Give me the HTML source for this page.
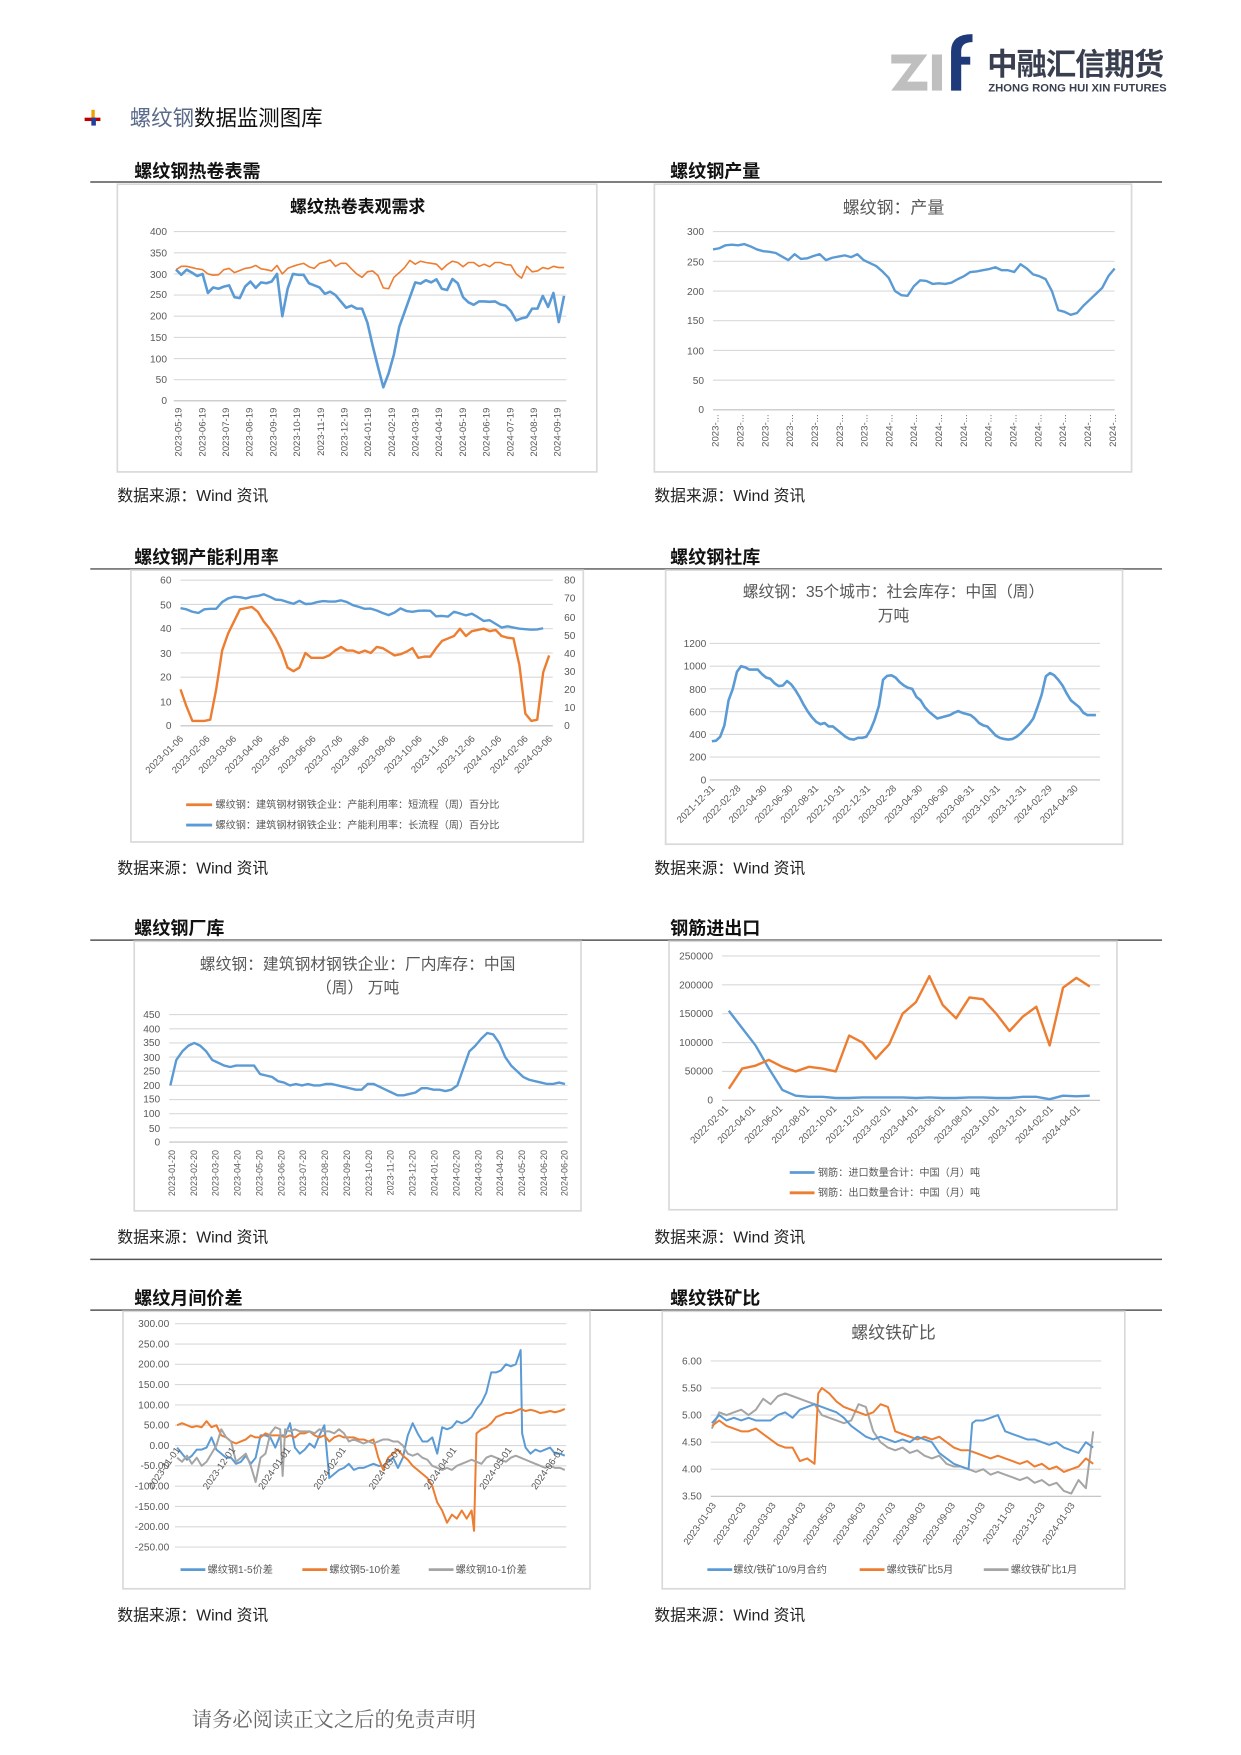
<!DOCTYPE html>
<html><head><meta charset="utf-8"><style>
html,body{margin:0;padding:0;background:#fff;}
svg{display:block;}
text{font-family:"Liberation Sans","Noto Sans CJK SC",sans-serif;}
.t{font-size:9px;fill:#595959;}
.s{font-size:14px;fill:#222;font-family:"Liberation Serif","Noto Serif CJK SC",serif;}
.h{font-size:16px;font-weight:bold;fill:#111;font-family:"Liberation Sans","Noto Sans CJK SC",sans-serif;}
.g{stroke:#d9d9d9;stroke-width:1;}
.box{fill:#fff;stroke:#d9d9d9;stroke-width:1.5;}
.l{fill:none;vector-effect:non-scaling-stroke;stroke-linejoin:round;}
.b{stroke:#5b9bd5;}.o{stroke:#ed7d31;}.y{stroke:#a5a5a5;}
</style></head><body>
<svg width="1241" height="1755" viewBox="0 0 1100 1555" xmlns="http://www.w3.org/2000/svg">
<rect width="1100" height="1555" fill="#fff"/>
<!-- logo -->
<polygon points="790,48 822,48 804,72 822,72 822,80 790,80 808,56 790,56" fill="#bfbfbf"/>
<rect x="826" y="48" width="9" height="32" fill="#bfbfbf"/>
<path d="M843,80 V45 Q843,30 862,30 V37 Q852,37 852,45 V50 H860 V57 H852 V80 Z" fill="#1f3a7a"/>
<text x="875" y="66" style="font-size:27px;font-weight:bold;fill:#3a3f4f;letter-spacing:-1px">中融汇信期货</text>
<text x="876" y="81" style="font-size:10px;font-weight:bold;fill:#3a3f4f">ZHONG RONG HUI XIN FUTURES</text>
<!-- header -->
<rect x="81" y="97" width="3" height="14" fill="#f0a000"/>
<rect x="75" y="104" width="14" height="3" fill="#c00000"/>
<rect x="81" y="104" width="4" height="7" fill="#2040a0"/>
<text x="115" y="111" style="font-size:19px;fill:#5a6a8a">螺纹钢<tspan fill="#111">数据监测图库</tspan></text>
<!-- section lines -->
<g stroke="#555" stroke-width="1.3">
<line x1="80" y1="161" x2="1030" y2="161"/><line x1="80" y1="504" x2="1030" y2="504"/>
<line x1="80" y1="833" x2="1030" y2="833"/><line x1="80" y1="1116" x2="1030" y2="1116"/>
<line x1="80" y1="1161" x2="1030" y2="1161"/></g>
<text class="h" x="119" y="157">螺纹钢热卷表需</text><text class="h" x="594" y="157">螺纹钢产量</text>
<text class="h" x="119" y="499">螺纹钢产能利用率</text><text class="h" x="594" y="499">螺纹钢社库</text>
<text class="h" x="119" y="828">螺纹钢厂库</text><text class="h" x="594" y="828">钢筋进出口</text>
<text class="h" x="119" y="1156">螺纹月间价差</text><text class="h" x="594" y="1156">螺纹铁矿比</text>
<g class="s"><text x="104" y="444">数据来源：Wind 资讯</text><text x="580" y="444">数据来源：Wind 资讯</text>
<text x="104" y="774">数据来源：Wind 资讯</text><text x="580" y="774">数据来源：Wind 资讯</text>
<text x="104" y="1101">数据来源：Wind 资讯</text><text x="580" y="1101">数据来源：Wind 资讯</text>
<text x="104" y="1436">数据来源：Wind 资讯</text><text x="580" y="1436">数据来源：Wind 资讯</text></g>
<text x="170" y="1530" style="font-size:18px;fill:#666;font-family:'Liberation Serif','Noto Serif CJK SC',serif">请务必阅读正文之后的免责声明</text>

<!-- chart 1 -->
<rect class="box" x="104" y="163" width="425" height="255"/>
<text x="317" y="188" text-anchor="middle" style="font-size:15px;font-weight:bold;fill:#111">螺纹热卷表观需求</text>
<g class="g"><line x1="154" x2="502" y1="205" y2="205"/><line x1="154" x2="502" y1="223.75" y2="223.75"/><line x1="154" x2="502" y1="242.5" y2="242.5"/><line x1="154" x2="502" y1="261.25" y2="261.25"/><line x1="154" x2="502" y1="280" y2="280"/><line x1="154" x2="502" y1="298.75" y2="298.75"/><line x1="154" x2="502" y1="317.5" y2="317.5"/><line x1="154" x2="502" y1="336.25" y2="336.25"/><line x1="154" x2="502" y1="355" y2="355" stroke="#bfbfbf"/></g>
<g class="t" text-anchor="end"><text x="148" y="208">400</text><text x="148" y="227">350</text><text x="148" y="246">300</text><text x="148" y="264">250</text><text x="148" y="283">200</text><text x="148" y="302">150</text><text x="148" y="321">100</text><text x="148" y="339">50</text><text x="148" y="358">0</text></g>
<g class="t" text-anchor="end" style="font-size:8.5px">
<text transform="translate(161,361) rotate(-90)">2023-05-19</text><text transform="translate(182,361) rotate(-90)">2023-06-19</text><text transform="translate(203,361) rotate(-90)">2023-07-19</text><text transform="translate(224,361) rotate(-90)">2023-08-19</text><text transform="translate(245,361) rotate(-90)">2023-09-19</text><text transform="translate(266,361) rotate(-90)">2023-10-19</text><text transform="translate(287,361) rotate(-90)">2023-11-19</text><text transform="translate(308,361) rotate(-90)">2023-12-19</text><text transform="translate(329,361) rotate(-90)">2024-01-19</text><text transform="translate(350,361) rotate(-90)">2024-02-19</text><text transform="translate(371,361) rotate(-90)">2024-03-19</text><text transform="translate(392,361) rotate(-90)">2024-04-19</text><text transform="translate(413,361) rotate(-90)">2024-05-19</text><text transform="translate(434,361) rotate(-90)">2024-06-19</text><text transform="translate(455,361) rotate(-90)">2024-07-19</text><text transform="translate(476,361) rotate(-90)">2024-08-19</text><text transform="translate(497,361) rotate(-90)">2024-09-19</text></g>
<g transform="translate(156,355) scale(4.712,-0.375)">
<polyline class="l o" stroke-width="1.6" points="0,310 1,318 2,318 3,315 4,312 5,310 6,300 7,297 8,298 9,310 10,313 11,303 12,308 13,313 14,315 15,320 16,312 17,310 18,307 19,320 20,300 21,313 22,318 23,322 24,325 25,317 26,313 27,325 28,328 29,333 30,318 31,325 32,325 33,312 34,300 35,292 36,305 37,307 38,296 39,267 40,265 41,292 42,303 43,315 44,332 45,323 46,330 47,327 48,325 49,323 50,310 51,322 52,330 53,327 54,317 55,327 56,327 57,318 58,323 59,317 60,327 61,327 62,322 63,321 64,300 65,290 66,318 67,305 68,307 69,315 70,312 71,318 72,315 73,315"/>
<polyline class="l b" stroke-width="2.6" points="0,310 1,298 2,310 3,303 4,295 5,300 6,255 7,268 8,265 9,270 10,273 11,245 12,243 13,270 14,282 15,267 16,280 17,278 18,282 19,300 20,200 21,265 22,300 23,298 24,298 25,278 26,273 27,268 28,253 29,258 30,250 31,235 32,220 33,225 34,218 35,218 36,185 37,130 38,80 39,32 40,65 41,110 42,175 43,210 44,245 45,280 46,277 47,285 48,280 49,287 50,265 51,262 52,288 53,278 54,245 55,233 56,227 57,235 58,235 59,234 60,235 61,228 62,225 63,212 64,190 65,195 66,198 67,218 68,218 69,248 70,222 71,255 72,186 73,248"/></g>

<!-- chart 2 -->
<rect class="box" x="580" y="163" width="423" height="255"/>
<text x="792" y="189" text-anchor="middle" style="font-size:15px;fill:#595959">螺纹钢：产量</text>
<g class="g"><line x1="632" x2="988" y1="205" y2="205"/><line x1="632" x2="988" y1="231.3" y2="231.3"/><line x1="632" x2="988" y1="257.7" y2="257.7"/><line x1="632" x2="988" y1="284" y2="284"/><line x1="632" x2="988" y1="310.3" y2="310.3"/><line x1="632" x2="988" y1="336.7" y2="336.7"/><line x1="632" x2="988" y1="363" y2="363" stroke="#bfbfbf"/></g>
<g class="t" text-anchor="end"><text x="624" y="208">300</text><text x="624" y="235">250</text><text x="624" y="261">200</text><text x="624" y="287">150</text><text x="624" y="314">100</text><text x="624" y="340">50</text><text x="624" y="366">0</text></g>
<g class="t" text-anchor="end" style="font-size:8.5px">
<text transform="translate(637,367) rotate(-90)">2023-...</text><text transform="translate(659,367) rotate(-90)">2023-...</text><text transform="translate(681,367) rotate(-90)">2023-...</text><text transform="translate(703,367) rotate(-90)">2023-...</text><text transform="translate(725,367) rotate(-90)">2023-...</text><text transform="translate(747,367) rotate(-90)">2023-...</text><text transform="translate(769,367) rotate(-90)">2023-...</text><text transform="translate(791,367) rotate(-90)">2024-...</text><text transform="translate(813,367) rotate(-90)">2024-...</text><text transform="translate(835,367) rotate(-90)">2024-...</text><text transform="translate(857,367) rotate(-90)">2024-...</text><text transform="translate(879,367) rotate(-90)">2024-...</text><text transform="translate(901,367) rotate(-90)">2024-...</text><text transform="translate(923,367) rotate(-90)">2024-...</text><text transform="translate(945,367) rotate(-90)">2024-...</text><text transform="translate(967,367) rotate(-90)">2024-...</text><text transform="translate(989,367) rotate(-90)">2024-...</text></g>
<g transform="translate(632,363) scale(5.5625,-0.5267)">
<polyline class="l b" stroke-width="2.4" points="0,270 1,272 2,277 3,278 4,277 5,279 6,275 7,270 8,267 9,266 10,264 11,258 12,252 13,262 14,254 15,255 16,259 17,262 18,252 19,256 20,258 21,260 22,257 23,262 24,252 25,247 26,242 27,233 28,222 29,200 30,193 31,192 32,208 33,218 34,217 35,212 36,213 37,212 38,214 39,220 40,225 41,232 42,233 43,235 44,237 45,240 46,235 47,235 48,232 49,245 50,238 51,228 52,225 53,220 54,200 55,168 56,165 57,160 58,163 59,175 60,185 61,195 62,205 63,225 64,238"/></g>

<!-- chart 3 -->
<rect class="box" x="116" y="505" width="401" height="241"/>
<g class="g"><line x1="160" x2="490" y1="514" y2="514"/><line x1="160" x2="490" y1="535.5" y2="535.5"/><line x1="160" x2="490" y1="557" y2="557"/><line x1="160" x2="490" y1="578.5" y2="578.5"/><line x1="160" x2="490" y1="600" y2="600"/><line x1="160" x2="490" y1="621.5" y2="621.5"/><line x1="160" x2="490" y1="643" y2="643" stroke="#bfbfbf"/></g>
<g class="t" text-anchor="end"><text x="152" y="517">60</text><text x="152" y="539">50</text><text x="152" y="560">40</text><text x="152" y="582">30</text><text x="152" y="603">20</text><text x="152" y="625">10</text><text x="152" y="646">0</text></g>
<g class="t"><text x="500" y="517">80</text><text x="500" y="533">70</text><text x="500" y="550">60</text><text x="500" y="566">50</text><text x="500" y="582">40</text><text x="500" y="598">30</text><text x="500" y="614">20</text><text x="500" y="630">10</text><text x="500" y="646">0</text></g>
<g class="t" text-anchor="end" style="font-size:8.5px">
<text transform="translate(163,655) rotate(-45)">2023-01-06</text><text transform="translate(186.5,655) rotate(-45)">2023-02-06</text><text transform="translate(210,655) rotate(-45)">2023-03-06</text><text transform="translate(233.5,655) rotate(-45)">2023-04-06</text><text transform="translate(257,655) rotate(-45)">2023-05-06</text><text transform="translate(280.5,655) rotate(-45)">2023-06-06</text><text transform="translate(304,655) rotate(-45)">2023-07-06</text><text transform="translate(327.5,655) rotate(-45)">2023-08-06</text><text transform="translate(351,655) rotate(-45)">2023-09-06</text><text transform="translate(374.5,655) rotate(-45)">2023-10-06</text><text transform="translate(398,655) rotate(-45)">2023-11-06</text><text transform="translate(421.5,655) rotate(-45)">2023-12-06</text><text transform="translate(445,655) rotate(-45)">2024-01-06</text><text transform="translate(468.5,655) rotate(-45)">2024-02-06</text><text transform="translate(490,655) rotate(-45)">2024-03-06</text></g>
<g transform="translate(160,643) scale(5.27,-2.15)">
<polyline class="l b" stroke-width="2.4" points="0,48.5 1,48 2,47 3,46.5 4,48 5,48.2 6,48.2 7,51 8,52.5 9,53.2 10,53 11,52.5 12,53.2 13,53.5 14,54.2 15,53.2 16,52 17,51.8 18,51 19,50.3 20,51.5 21,50.2 22,50.3 23,51 24,51.4 25,51.2 26,51.2 27,51.7 28,51 29,49.7 30,49 31,48.2 32,48.3 33,47.5 34,46.5 35,45.6 36,46.7 37,48.4 38,47.3 39,47 40,47.4 41,47.5 42,47.4 43,45.1 44,45.3 45,45 46,47 47,46.3 48,45.5 49,46.2 50,44.8 51,43.2 52,43.5 53,42 54,40.5 55,41 56,40.5 57,40 58,39.8 59,39.6 60,39.7 61,40.2"/>
<polyline class="l o" stroke-width="2.4" points="0,15 1,8 2,2 3,2 4,2 5,2.5 6,15 7,31 8,38 9,43 10,48 11,48.5 12,49 13,47 14,43 15,40 16,36 17,31 18,24 19,22.5 20,24 21,30 22,28 23,28 24,28 25,29 26,31 27,32.5 28,31 29,31 30,30 31,31 32,30 33,32.5 34,32 35,30.5 36,29 37,29.5 38,30.5 39,32 40,28 41,28.5 42,28.5 43,32 44,35 45,36 46,37 47,40 48,37 49,39 50,39.5 51,40 52,39 53,39.5 54,37 55,36.3 56,36 57,25 58,5 59,2 60,2.5 61,22 62,29"/></g>
<line x1="165" x2="188" y1="713" y2="713" stroke="#ed7d31" stroke-width="2.5"/>
<line x1="165" x2="188" y1="731" y2="731" stroke="#5b9bd5" stroke-width="2.5"/>
<g class="t"><text x="191" y="716">螺纹钢：建筑钢材钢铁企业：产能利用率：短流程（周）百分比</text><text x="191" y="734">螺纹钢：建筑钢材钢铁企业：产能利用率：长流程（周）百分比</text></g>

<!-- chart 4 -->
<rect class="box" x="590" y="505" width="405" height="243"/>
<text x="792" y="529" text-anchor="middle" style="font-size:14px;fill:#595959">螺纹钢：35个城市：社会库存：中国（周）</text>
<text x="792" y="550" text-anchor="middle" style="font-size:14px;fill:#595959">万吨</text>
<g class="g"><line x1="629" x2="975" y1="570" y2="570"/><line x1="629" x2="975" y1="590.2" y2="590.2"/><line x1="629" x2="975" y1="610.3" y2="610.3"/><line x1="629" x2="975" y1="630.5" y2="630.5"/><line x1="629" x2="975" y1="650.7" y2="650.7"/><line x1="629" x2="975" y1="670.8" y2="670.8"/><line x1="629" x2="975" y1="691" y2="691" stroke="#bfbfbf"/></g>
<g class="t" text-anchor="end"><text x="626" y="573">1200</text><text x="626" y="593">1000</text><text x="626" y="614">800</text><text x="626" y="634">600</text><text x="626" y="654">400</text><text x="626" y="674">200</text><text x="626" y="694">0</text></g>
<g class="t" text-anchor="end" style="font-size:8.5px">
<text transform="translate(634,699) rotate(-45)">2021-12-31</text><text transform="translate(657,699) rotate(-45)">2022-02-28</text><text transform="translate(680,699) rotate(-45)">2022-04-30</text><text transform="translate(703,699) rotate(-45)">2022-06-30</text><text transform="translate(726,699) rotate(-45)">2022-08-31</text><text transform="translate(749,699) rotate(-45)">2022-10-31</text><text transform="translate(772,699) rotate(-45)">2022-12-31</text><text transform="translate(795,699) rotate(-45)">2023-02-28</text><text transform="translate(818,699) rotate(-45)">2023-04-30</text><text transform="translate(841,699) rotate(-45)">2023-06-30</text><text transform="translate(864,699) rotate(-45)">2023-08-31</text><text transform="translate(887,699) rotate(-45)">2023-10-31</text><text transform="translate(910,699) rotate(-45)">2023-12-31</text><text transform="translate(933,699) rotate(-45)">2024-02-29</text><text transform="translate(956,699) rotate(-45)">2024-04-30</text></g>
<g transform="translate(631,691) scale(3.7,-0.1008)">
<polyline class="l b" stroke-width="2.6" points="0,340 1,345 2,380 3,480 4,700 5,800 6,950 7,1000 8,990 9,970 10,970 11,970 12,930 13,900 14,890 15,850 16,825 17,830 18,870 19,840 20,790 21,730 22,660 23,600 24,550 25,510 26,490 27,500 28,470 29,470 30,440 31,410 32,380 33,360 34,355 35,370 36,370 37,380 38,440 39,530 40,650 41,880 42,915 43,920 44,900 45,860 46,830 47,810 48,800 49,730 50,700 51,640 52,600 53,570 54,540 55,550 56,560 57,570 58,590 59,605 60,590 61,580 62,570 63,540 64,500 65,480 66,470 67,430 68,390 69,370 70,360 71,355 72,360 73,380 74,410 75,450 76,490 77,540 78,640 79,750 80,910 81,940 82,920 83,880 84,830 85,760 86,700 87,670 88,640 89,590 90,570 91,570 92,570"/></g>

<!-- chart 5 -->
<rect class="box" x="119" y="834" width="396" height="239"/>
<text x="317" y="859" text-anchor="middle" style="font-size:14px;fill:#595959">螺纹钢：建筑钢材钢铁企业：厂内库存：中国</text>
<text x="317" y="880" text-anchor="middle" style="font-size:14px;fill:#595959">（周）  万吨</text>
<g class="g"><line x1="150" x2="503" y1="899" y2="899"/><line x1="150" x2="503" y1="911.6" y2="911.6"/><line x1="150" x2="503" y1="924.1" y2="924.1"/><line x1="150" x2="503" y1="936.7" y2="936.7"/><line x1="150" x2="503" y1="949.2" y2="949.2"/><line x1="150" x2="503" y1="961.8" y2="961.8"/><line x1="150" x2="503" y1="974.3" y2="974.3"/><line x1="150" x2="503" y1="986.9" y2="986.9"/><line x1="150" x2="503" y1="999.4" y2="999.4"/><line x1="150" x2="503" y1="1012" y2="1012" stroke="#bfbfbf"/></g>
<g class="t" text-anchor="end"><text x="142" y="902">450</text><text x="142" y="915">400</text><text x="142" y="927">350</text><text x="142" y="940">300</text><text x="142" y="952">250</text><text x="142" y="965">200</text><text x="142" y="977">150</text><text x="142" y="990">100</text><text x="142" y="1003">50</text><text x="142" y="1015">0</text></g>
<g class="t" text-anchor="end" style="font-size:8px">
<text transform="translate(155,1019) rotate(-90)">2023-01-20</text><text transform="translate(174.4,1019) rotate(-90)">2023-02-20</text><text transform="translate(193.8,1019) rotate(-90)">2023-03-20</text><text transform="translate(213.2,1019) rotate(-90)">2023-04-20</text><text transform="translate(232.6,1019) rotate(-90)">2023-05-20</text><text transform="translate(252,1019) rotate(-90)">2023-06-20</text><text transform="translate(271.4,1019) rotate(-90)">2023-07-20</text><text transform="translate(290.8,1019) rotate(-90)">2023-08-20</text><text transform="translate(310.2,1019) rotate(-90)">2023-09-20</text><text transform="translate(329.6,1019) rotate(-90)">2023-10-20</text><text transform="translate(349,1019) rotate(-90)">2023-11-20</text><text transform="translate(368.4,1019) rotate(-90)">2023-12-20</text><text transform="translate(387.8,1019) rotate(-90)">2024-01-20</text><text transform="translate(407.2,1019) rotate(-90)">2024-02-20</text><text transform="translate(426.6,1019) rotate(-90)">2024-03-20</text><text transform="translate(446,1019) rotate(-90)">2024-04-20</text><text transform="translate(465.4,1019) rotate(-90)">2024-05-20</text><text transform="translate(484.8,1019) rotate(-90)">2024-06-20</text><text transform="translate(503,1019) rotate(-90)">2024-06-20</text></g>
<g transform="translate(151,1012) scale(5.3,-0.2511)">
<polyline class="l b" stroke-width="2.4" points="0,200 1,290 2,320 3,340 4,350 5,340 6,320 7,290 8,280 9,270 10,265 11,270 12,270 13,270 14,270 15,240 16,235 17,230 18,215 19,210 20,200 21,205 22,200 23,205 24,200 25,200 26,205 27,205 28,200 29,195 30,190 31,185 32,185 33,205 34,205 35,195 36,185 37,175 38,165 39,165 40,170 41,175 42,190 43,190 44,185 45,185 46,180 47,185 48,200 49,260 50,320 51,340 52,365 53,385 54,380 55,350 56,300 57,270 58,250 59,230 60,220 61,215 62,210 63,205 64,205 65,210 66,205"/></g>

<!-- chart 6 -->
<rect class="box" x="593" y="834" width="397" height="238"/>
<g class="g"><line x1="640" x2="975" y1="847" y2="847"/><line x1="640" x2="975" y1="872.6" y2="872.6"/><line x1="640" x2="975" y1="898.2" y2="898.2"/><line x1="640" x2="975" y1="923.8" y2="923.8"/><line x1="640" x2="975" y1="949.4" y2="949.4"/><line x1="640" x2="975" y1="975" y2="975" stroke="#bfbfbf"/></g>
<g class="t" text-anchor="end"><text x="632" y="850">250000</text><text x="632" y="876">200000</text><text x="632" y="901">150000</text><text x="632" y="927">100000</text><text x="632" y="952">50000</text><text x="632" y="978">0</text></g>
<g class="t" text-anchor="end" style="font-size:8.5px">
<text transform="translate(646,983) rotate(-45)">2022-02-01</text><text transform="translate(670,983) rotate(-45)">2022-04-01</text><text transform="translate(694,983) rotate(-45)">2022-06-01</text><text transform="translate(718,983) rotate(-45)">2022-08-01</text><text transform="translate(742,983) rotate(-45)">2022-10-01</text><text transform="translate(766,983) rotate(-45)">2022-12-01</text><text transform="translate(790,983) rotate(-45)">2023-02-01</text><text transform="translate(814,983) rotate(-45)">2023-04-01</text><text transform="translate(838,983) rotate(-45)">2023-06-01</text><text transform="translate(862,983) rotate(-45)">2023-08-01</text><text transform="translate(886,983) rotate(-45)">2023-10-01</text><text transform="translate(910,983) rotate(-45)">2023-12-01</text><text transform="translate(934,983) rotate(-45)">2024-02-01</text><text transform="translate(958,983) rotate(-45)">2024-04-01</text></g>
<g transform="translate(646,975) scale(11.85,-0.512)">
<polyline class="l b" stroke-width="2.4" points="0,155 1,125 2,95 3,55 4,18 5,8 6,6 7,6 8,4 9,4 10,5 11,5 12,5 13,5 14,4 15,5 16,4 17,4 18,5 19,5 20,4 21,4 22,6 23,6 24,2 25,8 26,7 27,8"/>
<polyline class="l o" stroke-width="2.4" points="0,20 1,55 2,60 3,70 4,58 5,50 6,58 7,55 8,50 9,112 10,100 11,72 12,97 13,150 14,170 15,215 16,165 17,142 18,178 19,175 20,150 21,120 22,145 23,162 24,95 25,195 26,212 27,197"/></g>
<line x1="700" x2="722" y1="1039" y2="1039" stroke="#5b9bd5" stroke-width="2.5"/>
<line x1="700" x2="722" y1="1057" y2="1057" stroke="#ed7d31" stroke-width="2.5"/>
<g class="t"><text x="725" y="1042">钢筋：进口数量合计：中国（月）吨</text><text x="725" y="1060">钢筋：出口数量合计：中国（月）吨</text></g>

<!-- chart 7 -->
<rect class="box" x="109" y="1162" width="414" height="246"/>
<g class="g"><line x1="155" x2="502" y1="1173" y2="1173"/><line x1="155" x2="502" y1="1191" y2="1191"/><line x1="155" x2="502" y1="1209" y2="1209"/><line x1="155" x2="502" y1="1227" y2="1227"/><line x1="155" x2="502" y1="1245" y2="1245"/><line x1="155" x2="502" y1="1263" y2="1263"/><line x1="155" x2="502" y1="1281" y2="1281"/><line x1="155" x2="502" y1="1299" y2="1299"/><line x1="155" x2="502" y1="1317" y2="1317"/><line x1="155" x2="502" y1="1335" y2="1335"/><line x1="155" x2="502" y1="1353" y2="1353"/><line x1="155" x2="502" y1="1371" y2="1371"/></g>
<g class="t" text-anchor="end"><text x="150" y="1176">300.00</text><text x="150" y="1194">250.00</text><text x="150" y="1212">200.00</text><text x="150" y="1230">150.00</text><text x="150" y="1248">100.00</text><text x="150" y="1266">50.00</text><text x="150" y="1284">0.00</text><text x="150" y="1302">-50.00</text><text x="150" y="1320">-100.00</text><text x="150" y="1338">-150.00</text><text x="150" y="1356">-200.00</text><text x="150" y="1374">-250.00</text></g>
<g transform="translate(157,1281) scale(4.35,-0.36)">
<polyline class="l b" stroke-width="2" points="0,-5 1,-20 2,-35 3,-25 4,-10 5,-10 6,-5 7,20 8,-10 9,-20 10,-30 11,-30 12,-45 13,-40 14,-25 15,-45 16,-30 17,25 18,25 19,20 20,-5 21,25 22,25 23,55 24,-5 25,-20 26,-10 27,5 28,-5 29,25 30,50 31,-80 32,-70 33,-60 34,-55 35,-45 36,-60 37,-55 38,-55 39,-50 40,-45 41,-50 42,-50 43,-40 44,-30 45,-55 46,-30 47,25 48,55 49,30 50,10 51,10 52,20 53,-20 54,45 55,40 56,45 57,60 58,55 59,60 60,70 61,90 62,105 63,130 64,180 65,180 66,185 67,200 68,195 69,200 70,235 70.3,30 71,-5 72,-20 73,-10 74,-15 75,-10 76,-5 77,-20 78,-20 79,-25"/>
<polyline class="l o" stroke-width="2" points="0,50 1,55 2,50 3,45 4,48 5,45 6,60 7,45 8,50 9,25 10,20 11,10 12,5 13,10 14,15 15,25 16,20 17,20 18,30 19,25 20,25 21,25 22,20 23,25 24,20 25,30 26,30 27,35 28,25 29,20 30,25 31,10 32,20 33,25 34,20 35,20 36,20 37,15 38,15 39,10 40,15 41,-30 42,-60 43,-30 44,-20 45,-10 46,-25 47,-35 48,-50 49,-60 50,-70 51,-80 52,-100 53,-140 54,-160 55,-190 56,-170 57,-180 58,-160 59,-180 60,-160 60.5,-210 61,30 62,40 63,45 64,55 65,70 66,75 67,80 68,80 69,85 70,90 71,85 72,88 73,85 74,80 75,82 76,85 77,82 78,85 79,90"/>
<polyline class="l y" stroke-width="2" points="0,-30 1,-40 2,-25 3,-45 4,-30 5,-50 6,-40 7,-20 8,0 9,40 10,20 11,10 12,-40 13,-30 14,-20 15,-50 16,-90 17,-30 18,-20 19,30 20,45 21,40 21.5,-75 22,40 23,35 24,40 25,35 26,35 27,35 28,30 29,40 30,35 31,35 32,30 33,40 34,30 35,10 36,15 37,10 38,5 39,10 40,5 41,10 42,15 43,15 44,10 45,10 46,0 47,-20 48,-25 49,-20 50,-30 51,-35 52,-50 53,-55 54,-60 55,-55 56,-60 57,-50 58,-45 59,-40 60,-35 61,-40 62,-45 63,-30 64,-25 65,-30 66,-35 67,-40 68,-30 69,-25 70,-30 71,-35 72,-40 73,-45 74,-50 75,-55 76,-50 77,-55 78,-55 79,-60"/></g>
<g class="t" text-anchor="end" style="font-size:8.5px">
<text transform="translate(160,1285) rotate(-55)">2023-11-01</text><text transform="translate(209,1285) rotate(-55)">2023-12-01</text><text transform="translate(258,1285) rotate(-55)">2024-01-01</text><text transform="translate(307,1285) rotate(-55)">2024-02-01</text><text transform="translate(356,1285) rotate(-55)">2024-03-01</text><text transform="translate(405,1285) rotate(-55)">2024-04-01</text><text transform="translate(454,1285) rotate(-55)">2024-05-01</text><text transform="translate(500,1285) rotate(-55)">2024-06-01</text></g>
<line x1="160" x2="182" y1="1391" y2="1391" stroke="#5b9bd5" stroke-width="2.5"/>
<line x1="268" x2="290" y1="1391" y2="1391" stroke="#ed7d31" stroke-width="2.5"/>
<line x1="380" x2="402" y1="1391" y2="1391" stroke="#a5a5a5" stroke-width="2.5"/>
<g class="t"><text x="184" y="1394">螺纹钢1-5价差</text><text x="292" y="1394">螺纹钢5-10价差</text><text x="404" y="1394">螺纹钢10-1价差</text></g>

<!-- chart 8 -->
<rect class="box" x="587" y="1162" width="410" height="246"/>
<text x="792" y="1186" text-anchor="middle" style="font-size:15px;fill:#595959">螺纹铁矿比</text>
<g class="g"><line x1="630" x2="976" y1="1206" y2="1206"/><line x1="630" x2="976" y1="1230" y2="1230"/><line x1="630" x2="976" y1="1254" y2="1254"/><line x1="630" x2="976" y1="1278" y2="1278"/><line x1="630" x2="976" y1="1302" y2="1302"/><line x1="630" x2="976" y1="1326" y2="1326" stroke="#bfbfbf"/></g>
<g class="t" text-anchor="end"><text x="622" y="1209">6.00</text><text x="622" y="1233">5.50</text><text x="622" y="1257">5.00</text><text x="622" y="1281">4.50</text><text x="622" y="1305">4.00</text><text x="622" y="1329">3.50</text></g>
<g class="t" text-anchor="end" style="font-size:8.5px">
<text transform="translate(635,1334) rotate(-55)">2023-01-03</text><text transform="translate(661.5,1334) rotate(-55)">2023-02-03</text><text transform="translate(688,1334) rotate(-55)">2023-03-03</text><text transform="translate(714.5,1334) rotate(-55)">2023-04-03</text><text transform="translate(741,1334) rotate(-55)">2023-05-03</text><text transform="translate(767.5,1334) rotate(-55)">2023-06-03</text><text transform="translate(794,1334) rotate(-55)">2023-07-03</text><text transform="translate(820.5,1334) rotate(-55)">2023-08-03</text><text transform="translate(847,1334) rotate(-55)">2023-09-03</text><text transform="translate(873.5,1334) rotate(-55)">2023-10-03</text><text transform="translate(900,1334) rotate(-55)">2023-11-03</text><text transform="translate(926.5,1334) rotate(-55)">2023-12-03</text><text transform="translate(953,1334) rotate(-55)">2024-01-03</text></g>
<g transform="translate(631,1326) scale(6.5,-48)">
<polyline class="l y" stroke-width="2" points="0,1.25 1,1.55 2,1.5 3,1.55 4,1.6 5,1.5 6,1.6 7,1.8 8,1.7 9,1.85 10,1.9 11,1.85 12,1.8 13,1.75 14,1.7 15,1.5 16,1.45 17,1.4 18,1.35 19,1.4 20,1.7 21,1.65 22,1.2 23,1.0 24,0.9 25,0.85 26,0.9 27,0.8 28,0.85 29,0.75 30,0.7 31,0.75 32,0.6 33,0.55 34,0.55 35,0.5 36,0.45 37,0.5 38,0.4 39,0.45 40,0.4 41,0.35 42,0.3 43,0.35 44,0.25 45,0.3 46,0.2 47,0.25 48,0.1 49,0.05 50,0.3 51,0.15 52,1.2"/>
<polyline class="l o" stroke-width="2" points="0,1.3 1,1.4 2,1.3 3,1.25 4,1.2 5,1.2 6,1.25 7,1.15 8,1.05 9,0.95 10,0.9 11,0.9 12,0.65 13,0.7 14,0.6 14.5,1.9 15,2.0 16,1.9 17,1.75 18,1.65 19,1.6 20,1.55 21,1.5 22,1.55 23,1.7 24,1.65 25,1.2 26,1.15 27,1.1 28,1.05 29,1.1 30,1.05 31,1.1 32,1.0 33,0.9 34,0.85 35,0.85 36,0.8 37,0.75 38,0.7 39,0.75 40,0.7 41,0.65 42,0.6 43,0.65 44,0.55 45,0.6 46,0.5 47,0.55 48,0.45 49,0.5 50,0.55 51,0.7 52,0.6"/>
<polyline class="l b" stroke-width="2" points="0,1.35 1,1.5 2,1.4 3,1.45 4,1.4 5,1.45 6,1.4 7,1.4 8,1.4 9,1.5 10,1.55 11,1.45 12,1.6 13,1.65 14,1.7 15,1.65 16,1.6 17,1.55 18,1.45 19,1.3 20,1.2 21,1.1 22,1.05 23,1.1 24,1.05 25,1.0 26,1.05 27,1.0 28,1.1 29,1.05 30,1.0 31,0.8 32,0.7 33,0.6 34,0.55 35,0.5 35.5,1.35 36,1.4 37,1.4 38,1.45 39,1.5 40,1.2 41,1.15 42,1.1 43,1.05 44,1.05 45,1.0 46,0.95 47,1.0 48,0.9 49,0.85 50,0.8 51,1.0 52,0.9"/></g>
<line x1="627" x2="649" y1="1391" y2="1391" stroke="#5b9bd5" stroke-width="2.5"/>
<line x1="762" x2="784" y1="1391" y2="1391" stroke="#ed7d31" stroke-width="2.5"/>
<line x1="872" x2="894" y1="1391" y2="1391" stroke="#a5a5a5" stroke-width="2.5"/>
<g class="t"><text x="650" y="1394">螺纹/铁矿10/9月合约</text><text x="786" y="1394">螺纹铁矿比5月</text><text x="896" y="1394">螺纹铁矿比1月</text></g>
</svg>
</body></html>
